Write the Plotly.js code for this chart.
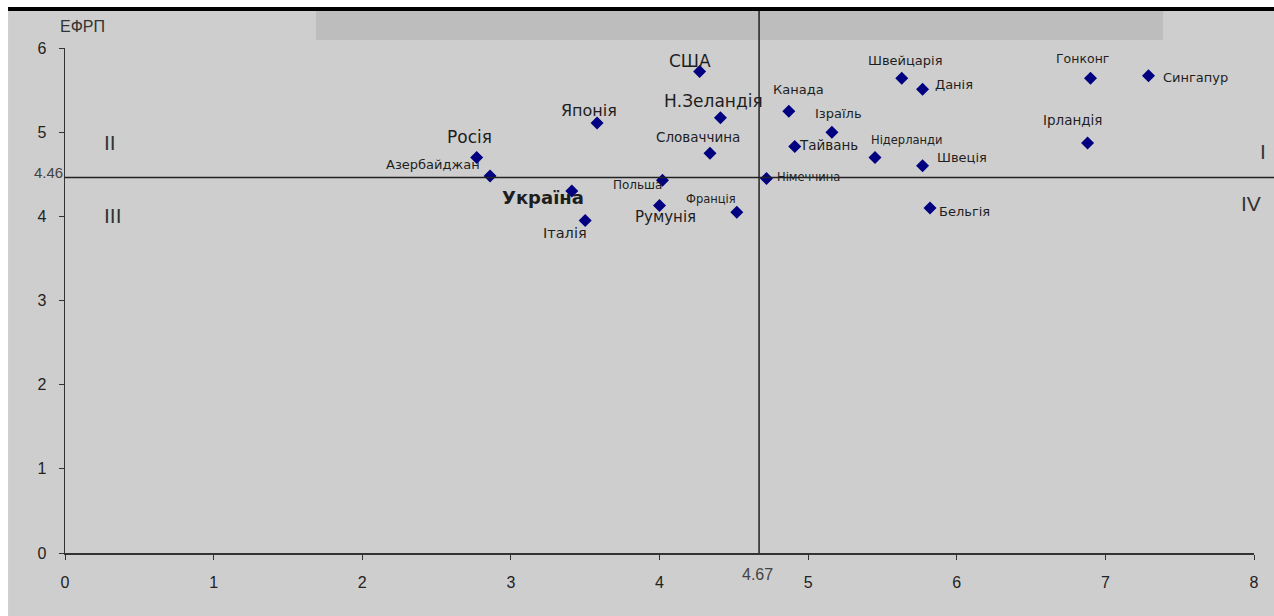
<!DOCTYPE html>
<html>
<head>
<meta charset="utf-8">
<script src="https://cdn.plot.ly/plotly-3.0.1.min.js"></script>
<style>html,body{margin:0;padding:0;background:#fff;}#chart{width:1274px;height:616px;}</style>
</head>
<body>
<div id="chart"></div>
<script>
// ---- data ----
const countries = ["Росія","Азербайджан","Японія","США","Н.Зеландія","Словаччина","Україна","Італія","Польша","Румунія","Франція","Німеччина","Канада","Ізраїль","Тайвань","Нідерланди","Швейцарія","Данія","Швеція","Бельгія","Гонконг","Сингапур","Ірландія"];
const xValues = [2.77,2.86,3.58,4.27,4.41,4.34,3.41,3.50,4.02,4.00,4.52,4.72,4.87,5.16,4.91,5.45,5.63,5.77,5.77,5.82,6.90,7.29,6.88];
const efrp    = [4.70,4.48,5.11,5.72,5.17,4.75,4.30,3.95,4.43,4.13,4.05,4.45,5.25,5.00,4.83,4.70,5.64,5.51,4.60,4.10,5.64,5.67,4.87];
const xTicks = [0,1,2,3,4,5,6,7,8];
const yTicks = [0,1,2,3,4,5,6];
const xThreshold = 4.67;
const yThreshold = 4.46;
const quadrants = ["I","II","III","IV"];

// ---- label styling (pixel offsets, sizes) ----
const labelDx   = [-7,-57,-8,-10,-7,-12,-29,-20,-25,6,-26,42,10,7,34,32,4,31,39,34,-8,47,-15];
const labelDy   = [-20,-11,-12,-11,-17,-16,6,12,5,12,-13,-1,-22,-19,-1,-17,-18,-5,-8,4,-20,2,-23];
const labelSize = [17,13,16,17,17,13.5,18,14.5,12,15,11.5,11.5,13,13,13.5,11.5,13,13,13,13,12.5,13,13.5];
const labelBold = [0,0,0,0,0,0,1,0,0,0,0,0,0,0,0,0,0,0,0,0,0,0,0];

const labelFont = "DejaVu Sans, Liberation Sans, Arial, sans-serif";
const tickFont = "Liberation Sans Narrow, Liberation Sans, Arial, sans-serif";
const textColor = "#1e1e1e";

const annotations = countries.map((c, i) => ({
  x: xValues[i], y: efrp[i], xref: "x", yref: "y",
  text: labelBold[i] ? "<b>" + c + "</b>" : c,
  showarrow: false, xshift: labelDx[i], yshift: -labelDy[i],
  font: {family: labelFont, size: labelSize[i], color: textColor}
}));

// quadrant labels (paper coordinates)
const quadPos = {"I": [1.0075, 0.796], "II": [0.0378, 0.812], "III": [0.0404, 0.669], "IV": [0.9975, 0.693]};
quadrants.forEach(q => annotations.push({
  x: quadPos[q][0], y: quadPos[q][1], xref: "paper", yref: "paper", text: q, showarrow: false,
  xanchor: "center", yanchor: "middle",
  font: {family: "Liberation Sans, Arial, sans-serif", size: 21, color: "#333"}
}));

// threshold labels
annotations.push({x: 0, y: yThreshold, xref: "paper", yref: "y", text: String(yThreshold),
  showarrow: false, xanchor: "right", yanchor: "middle", xshift: 0, yshift: 5,
  font: {family: tickFont, size: 15, color: "#444"}});
annotations.push({x: xThreshold, y: 0, xref: "x", yref: "paper", text: String(xThreshold),
  showarrow: false, xanchor: "center", yanchor: "middle", xshift: -2, yshift: -21,
  font: {family: tickFont, size: 16, color: "#444"}});
// axis title
annotations.push({x: 0.0143, y: 1.0416, xref: "paper", yref: "paper", text: "ЕФРП",
  showarrow: false, xanchor: "center", yanchor: "middle",
  font: {family: "Liberation Sans, Arial, sans-serif", size: 16, color: "#333"}});

const shapes = [
  {type: "rect", xref: "paper", yref: "paper", x0: -0.1, x1: 1.1, y0: 1.0812, y1: 1.2, fillcolor: "#ffffff", line: {width: 0}, layer: "below"},
  {type: "rect", xref: "paper", yref: "paper", x0: -0.1, x1: -0.0479, y0: -0.2, y1: 1.2, fillcolor: "#ffffff", line: {width: 0}, layer: "below"},
  {type: "rect", xref: "paper", yref: "paper", x0: -0.0479, x1: 1.1, y0: 1.0733, y1: 1.0812, fillcolor: "#000000", line: {width: 0}, layer: "below"},
  {type: "rect", xref: "paper", yref: "paper", x0: 0.2111, x1: 0.9235, y0: 1.0158, y1: 1.0733, fillcolor: "#bdbdbd", line: {width: 0}, layer: "below"},
  {type: "line", xref: "x", yref: "paper", x0: xThreshold, x1: xThreshold, y0: 0, y1: 1.0733, line: {color: "#222", width: 1.5}},
  {type: "line", xref: "paper", yref: "y", x0: 0, x1: 1.02, y0: yThreshold, y1: yThreshold, line: {color: "#222", width: 1.5}}
];

const trace = {
  type: "scatter", mode: "markers", x: xValues, y: efrp, text: countries,
  marker: {symbol: "diamond", size: 10, color: "#000080"},
  hoverinfo: "text", cliponaxis: false
};

const layout = {
  width: 1274, height: 616,
  margin: {l: 65, r: 20, t: 48, b: 63, pad: 0},
  paper_bgcolor: "#cecece", plot_bgcolor: "#cecece",
  showlegend: false,
  xaxis: {range: [0, 8], tickvals: xTicks, ticktext: xTicks.map(String), showgrid: false, zeroline: false,
    showline: true, linecolor: "#333", linewidth: 1.5, ticks: "outside", ticklen: 5, tickcolor: "#333",
    ticklabelstandoff: 9, tickfont: {family: tickFont, size: 16, color: "#222"}, fixedrange: true},
  yaxis: {range: [0, 6], tickvals: yTicks, ticktext: yTicks.map(String), showgrid: false, zeroline: false,
    showline: true, linecolor: "#333", linewidth: 1.5, ticks: "outside", ticklen: 5, tickcolor: "#333",
    ticklabelstandoff: 9, tickfont: {family: tickFont, size: 16, color: "#222"}, fixedrange: true},
  shapes: shapes,
  annotations: annotations
};

Plotly.newPlot("chart", [trace], layout, {displayModeBar: false, staticPlot: true});
</script>
</body>
</html>
